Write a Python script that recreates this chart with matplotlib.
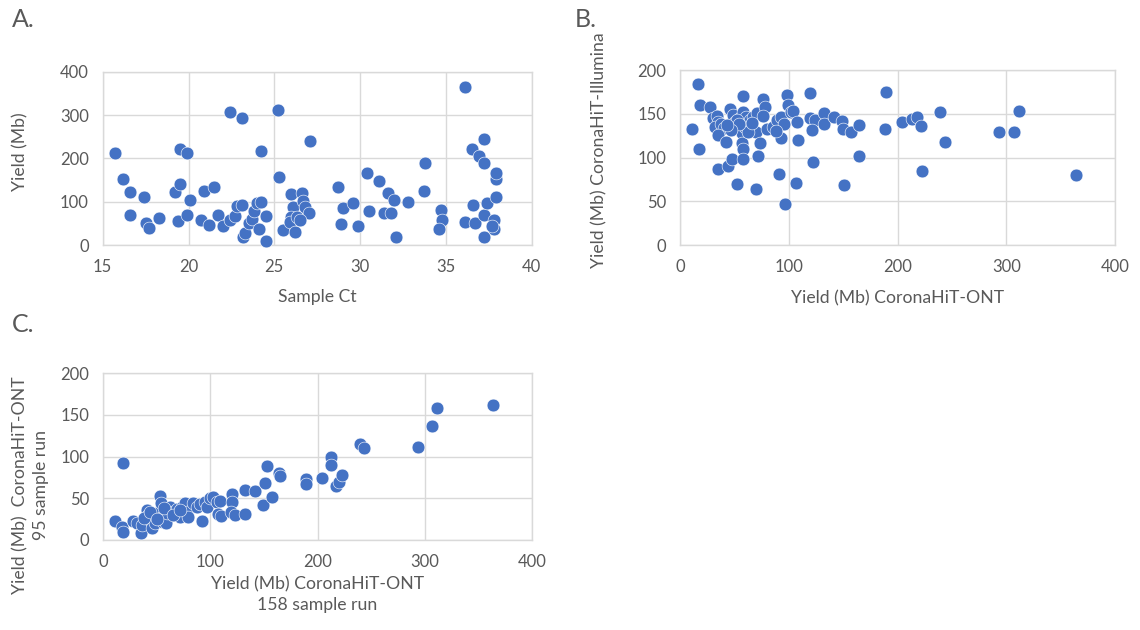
import matplotlib
matplotlib.use("Agg")
import matplotlib.pyplot as plt

# A. Sample Ct vs yield
ct = [15.7, 16.2, 16.6, 16.6, 17.4, 17.5, 17.7, 18.3, 19.2, 19.5, 19.5, 19.4, 19.9, 19.9, 20.1,
      20.7, 20.9, 21.2, 21.5, 21.7, 22.0, 22.4, 22.4, 22.7, 22.8, 23.1, 23.1, 23.2, 23.3, 23.5,
      23.7, 23.8, 24.0, 24.2, 24.2, 24.1, 24.5, 24.5, 25.2, 25.3, 25.5, 26.0, 26.1, 26.0, 25.9,
      26.2, 26.3, 26.6, 26.7, 26.8, 27.0, 26.5, 27.1, 28.7, 29.0, 28.9, 29.6, 29.9, 30.4, 30.5,
      31.1, 31.4, 31.6, 31.8, 32.0, 32.1, 32.8, 33.8, 33.7, 34.7, 34.8, 34.6, 36.1, 36.1, 36.5,
      36.6, 36.7, 36.9, 37.2, 37.2, 37.2, 37.2, 37.4, 37.8, 37.8, 37.7, 37.9, 37.9, 37.9]
yield_a = [213, 152, 122, 69, 110, 52, 40, 62, 122, 221, 141, 55, 70, 212, 104,
           59, 125, 46, 133, 69, 44, 308, 58, 68, 91, 92, 293, 18, 28, 50,
           61, 79, 96, 99, 218, 36, 67, 10, 312, 158, 34, 119, 88, 65, 54,
           31, 65, 121, 102, 88, 75, 58, 240, 133, 85, 48, 98, 44, 166, 78,
           149, 73, 121, 73, 105, 18, 100, 190, 124, 82, 59, 36, 366, 53, 222,
           93, 50, 205, 245, 190, 70, 19, 96, 59, 36, 44, 110, 152, 167]

# B. ONT yield vs Illumina yield
ont_b = [10.7, 16.5, 18.1, 17.2, 27.6, 30.6, 33.7, 35.2, 32.2, 37.4, 40.7, 34.6, 42.3, 34.6, 44.1,
         47.8, 45.9, 48.4, 50.5, 52.7, 55.1, 57.6, 57.6, 56.7, 57.3, 57.9, 58.2, 52.7, 60.6, 61.9,
         64.3, 67.4, 69.8, 71.0, 73.5, 72.0, 69.5, 76.6, 78.1, 76.6, 79.6, 85.8, 88.8, 92.5, 95.6,
         92.8, 91.3, 98.0, 99.5, 101.7, 96.5, 104.1, 107.8, 108.4, 106.6, 119.4, 119.4, 124.0, 121.6, 122.5,
         132.3, 132.3, 141.5, 148.9, 150.0, 151.0, 157.0, 164.2, 164.8, 189.0, 188.7, 204.0, 212.9, 217.5, 221.1,
         222.0, 238.9, 243.8, 293.1, 306.9, 311.2, 363.9, 52.0, 59.7, 62.8, 54.0, 47.0, 66.0, 43.0, 88.0]
illumina_b = [132.6, 183.6, 159.6, 109.3, 157.3, 144.8, 147.4, 141.0, 135.0, 138.3, 134.0, 125.7, 117.7, 86.5, 90.0,
              98.3, 155.4, 148.6, 141.0, 133.3, 144.8, 170.3, 152.4, 127.6, 116.2, 110.0, 98.3, 69.3, 146.7, 137.1,
              142.9, 146.7, 129.5, 150.5, 117.0, 102.0, 64.0, 166.5, 158.0, 147.8, 132.6, 135.2, 142.9, 146.7, 138.3,
              121.9, 81.1, 171.4, 160.0, 152.4, 46.9, 153.1, 140.2, 119.6, 71.2, 174.1, 144.8, 142.9, 131.4, 94.5,
              151.2, 138.3, 146.7, 141.7, 132.6, 69.0, 129.5, 137.5, 102.0, 174.9, 132.2, 140.2, 143.6, 146.7, 136.4,
              84.2, 152.0, 118.1, 128.8, 129.5, 152.8, 79.6, 142.9, 135.2, 129.5, 138.0, 131.0, 139.0, 137.0, 130.0]

# C. 158 sample run vs 95 sample run
ont_158 = [10.9, 17.1, 18.0, 18.7, 28.0, 31.1, 35.1, 35.8, 40.4, 42.0, 43.5, 45.1, 46.7, 48.2, 50.4,
           52.9, 53.5, 54.4, 56.0, 58.5, 59.7, 62.2, 64.7, 66.9, 68.4, 71.5, 73.3, 76.2, 77.8, 79.3,
           84.0, 87.1, 90.2, 91.8, 94.9, 96.4, 99.5, 102.0, 105.8, 108.9, 107.3, 109.5, 119.8, 119.8, 118.8,
           122.9, 132.2, 132.2, 141.5, 148.7, 150.9, 152.4, 157.1, 164.2, 164.9, 189.1, 189.1, 204.4, 212.1, 212.1,
           217.1, 220.2, 222.4, 239.5, 243.2, 293.3, 307.0, 311.7, 363.6, 38.0, 44.0, 50.0, 57.0, 65.0, 72.0]
ont_95 = [23.2, 16.0, 10.0, 92.8, 22.8, 20.0, 8.0, 18.0, 36.0, 30.0, 24.0, 14.0, 28.0, 20.0, 32.0,
          53.2, 44.8, 28.0, 22.0, 20.0, 32.0, 39.2, 34.0, 30.0, 36.8, 28.0, 40.0, 44.0, 34.0, 28.0,
          44.0, 40.0, 43.2, 23.2, 46.0, 40.0, 50.0, 52.0, 46.0, 46.8, 31.2, 28.8, 55.2, 46.0, 34.0,
          30.0, 60.0, 31.2, 59.2, 42.0, 68.8, 88.8, 51.2, 80.8, 77.2, 73.2, 67.2, 74.8, 99.6, 90.0,
          65.2, 69.6, 77.6, 115.2, 110.4, 112.0, 136.8, 158.0, 162.4, 26.0, 33.0, 25.0, 38.0, 30.0, 36.0]

plt.rcParams['font.family'] = ['Lato', 'DejaVu Sans']
text_col = '#595959'
dot_col = '#4472C4'
grid_col = '#d9d9d9'
lab_size = 12.7

fig = plt.figure(figsize=(11.4, 6.3), dpi=100)


def style(ax, xlim, ylim, xticks, yticks):
    ax.set_xlim(xlim)
    ax.set_ylim(ylim)
    ax.set_xticks(xticks)
    ax.set_yticks(yticks)
    ax.grid(True, color=grid_col, linewidth=1)
    ax.set_axisbelow(True)
    for s in ax.spines.values():
        s.set_color(grid_col)
        s.set_linewidth(1)
    ax.tick_params(length=0, labelsize=12, colors=text_col, pad=10)


def labels(ax, xl, yl, xpos, ypos):
    ax.set_xlabel(xl, fontsize=lab_size, color=text_col, linespacing=1.35)
    ax.set_ylabel(yl, fontsize=lab_size, color=text_col, linespacing=1.35)
    ax.xaxis.set_label_coords(*xpos)
    ax.yaxis.set_label_coords(*ypos)
    ax.xaxis.label.set_va('center')
    ax.yaxis.label.set_va('center')


axA = fig.add_axes([0.0901, 0.611, 0.3763, 0.275])
axA.scatter(ct, yield_a, s=85, color=dot_col, edgecolors='white', linewidths=0.4, zorder=3, clip_on=False)
style(axA, (15, 40), (0, 400), [15, 20, 25, 30, 35, 40], [0, 100, 200, 300, 400])
labels(axA, "Sample Ct", "Yield (Mb)", (0.5, -0.30), (-0.193, 0.537))

axB = fig.add_axes([0.5965, 0.611, 0.3818, 0.2778])
axB.scatter(ont_b, illumina_b, s=85, color=dot_col, edgecolors='white', linewidths=0.4, zorder=3, clip_on=False)
style(axB, (0, 400), (0, 200), [0, 100, 200, 300, 400], [0, 50, 100, 150, 200])
labels(axB, "Yield (Mb) CoronaHiT-ONT", "Yield (Mb) CoronaHiT-Illumina", (0.5, -0.303), (-0.186, 0.543))

axC = fig.add_axes([0.0906, 0.1429, 0.376, 0.2646])
axC.scatter(ont_158, ont_95, s=85, color=dot_col, edgecolors='white', linewidths=0.4, zorder=3, clip_on=False)
style(axC, (0, 400), (0, 200), [0, 100, 200, 300, 400], [0, 50, 100, 150, 200])
labels(axC, "Yield (Mb) CoronaHiT-ONT\n158 sample run", "Yield (Mb)  CoronaHiT-ONT\n95 sample run",
       (0.5, -0.33), (-0.169, 0.33))

fig.text(0.0105, 0.987, "A.", fontsize=18, color=text_col, va='top')
fig.text(0.504, 0.987, "B.", fontsize=18, color=text_col, va='top')
fig.text(0.0105, 0.503, "C.", fontsize=18, color=text_col, va='top')

fig.savefig("out.png", dpi=100, facecolor='white')
